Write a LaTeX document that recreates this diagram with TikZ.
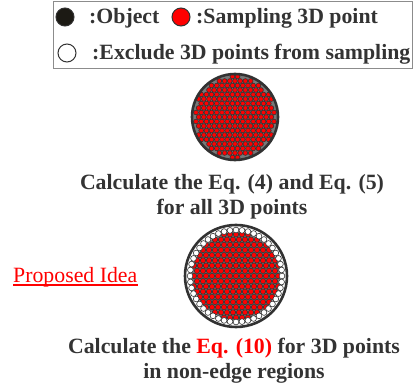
\documentclass[tikz,border=0pt]{standalone}
\usepackage{fontspec}
\usetikzlibrary{calc}
\setmainfont{Liberation Serif}
\definecolor{tdark}{RGB}{51,51,51}
\definecolor{rimc}{RGB}{50,50,50}
\definecolor{objc}{RGB}{28,26,20}
\definecolor{boxc}{RGB}{140,140,140}
\definecolor{gapc}{RGB}{120,120,120}
\begin{document}
\begin{tikzpicture}[x=1pt,y=-1pt,
  lbl/.style={font=\fontsize{21.8}{25}\selectfont\bfseries, text=tdark, inner sep=0pt},
  captxt/.style={font=\fontsize{21.8}{25}\selectfont\bfseries, text=tdark, inner sep=0pt, align=center},
  legdot/.style={circle, minimum size=18pt, inner sep=0pt, draw=rimc, line width=1pt},
  rim/.style={draw=rimc, line width=2.6pt},
  reddot/.style={fill=red, draw=rimc, line width=0.6pt},
  whitedot/.style={fill=white, draw=rimc, line width=0.6pt}]
\useasboundingbox (0,0) rectangle (414,387);
% legend
\node[draw=boxc, line width=0.8pt, minimum width=359pt, minimum height=67pt, inner sep=0pt] (legend) at (232.5,34.5) {};
\node[legdot, fill=objc] (lobj) at (65,17) {};
\node[lbl, anchor=base west] (tobj) at (89,24) {:Object};
\node[legdot, fill=red] (lred) at (181,17) {};
\node[lbl, anchor=base west] (tred) at (196,24) {:Sampling 3D point};
\node[legdot, fill=white] (lwhite) at (67,53) {};
\node[lbl, anchor=base west] (twhite) at (92,60) {:Exclude 3D points from sampling};
% circle 1
\coordinate (c1) at (235,117);
\fill[gapc] (c1) circle (43pt);
\begin{scope}
\clip (c1) circle (43pt);
\foreach \r in {-10,...,10}{
  \foreach \c in {-9,...,9}{
    \pgfmathsetmacro\xx{\c*5.2+mod(abs(\r),2)*2.6}
    \pgfmathsetmacro\yy{\r*4.5}
    \pgfmathsetmacro\dd{veclen(\xx,\yy)}
    \ifdim\dd pt<41pt
      \draw[reddot] ($(c1)+(\xx,\yy)$) circle (2.4pt);
    \fi
  }
}
\end{scope}
\draw[rim] (c1) circle (43pt);
\node[captxt] (cap1) at (232,197) {Calculate the Eq. (4) and Eq. (5)\\for all 3D points};
% circle 2
\coordinate (c2) at (236,276);
\fill[white] (c2) circle (51pt);
\fill[gapc] (c2) circle (44pt);
\begin{scope}
\clip (c2) circle (44.5pt);
\foreach \r in {-9,...,9}{
  \foreach \c in {-8,...,8}{
    \pgfmathsetmacro\xx{\c*6+mod(abs(\r),2)*3}
    \pgfmathsetmacro\yy{\r*5.2}
    \pgfmathsetmacro\dd{veclen(\xx,\yy)}
    \ifdim\dd pt<43.5pt
      \draw[reddot] ($(c2)+(\xx,\yy)$) circle (2.7pt);
    \fi
  }
}
\end{scope}
\foreach \a in {0,7.5,...,352.5}{
  \draw[whitedot] ($(c2)+(\a:46)$) circle (2.9pt);
}
\draw[rim] (c2) circle (51pt);
\node[font=\fontsize{21.8}{25}\selectfont, text=red, inner sep=0pt, anchor=base west] (idea) at (13,282) {Proposed Idea};
\draw[red, line width=1.2pt] ([yshift=-3pt]idea.base west) -- ([yshift=-3pt]idea.base east);
\node[captxt] (cap2) at (234,361) {Calculate the \textcolor{red}{Eq. (10)} for 3D points\\in non-edge regions};
\end{tikzpicture}
\end{document}
